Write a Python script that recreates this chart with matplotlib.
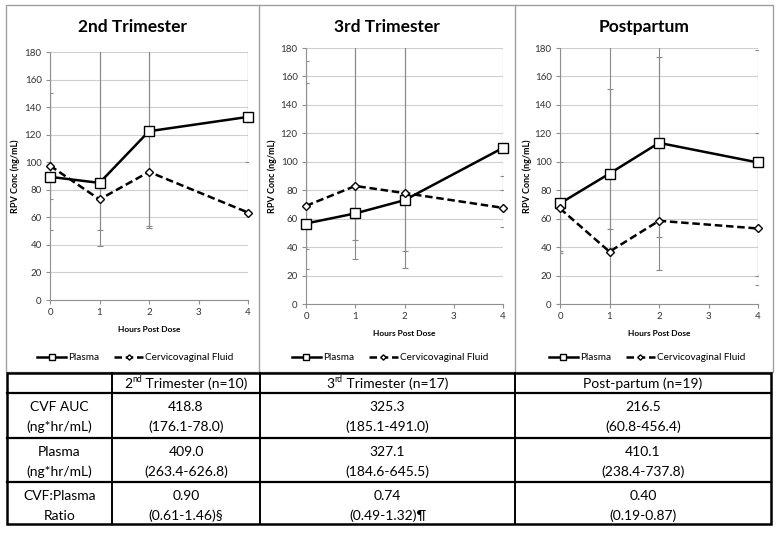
import numpy as np
import matplotlib
matplotlib.use("Agg")
import matplotlib.pyplot as plt
from matplotlib.lines import Line2D
from matplotlib.patches import Rectangle

plt.rcParams['font.family'] = ['Lato', 'DejaVu Sans']

# data
hours = [0, 1, 2, 4]
titles = ["2nd Trimester", "3rd Trimester", "Postpartum"]

plasma = [[89.4, 85.0, 122.5, 132.9],
          [56.6, 63.7, 73.0, 109.8],
          [70.7, 91.7, 113.3, 99.5]]
plasma_lo = [[51.0, 39.4, 52.4, 100.0],
             [24.4, 31.6, 25.0, 80.0],
             [37.0, 52.4, 47.3, 19.5]]
plasma_hi = [[200, 200, 200, 200],
             [155.5, 200, 200, 200],
             [200, 200, 200, 178.6]]

cvf = [[97.5, 73.0, 93.0, 63.5],
       [69.0, 83.0, 78.0, 67.6],
       [67.2, 36.8, 58.5, 53.1]]
cvf_lo = [[73.0, 50.6, 53.5, 63.0],
          [39.0, 45.0, 37.5, 54.0],
          [35.6, -10.0, 23.9, 13.3]]
cvf_hi = [[150, 200, 200, 200],
          [171.0, 200, 200, 90.0],
          [100.0, 151.4, 174.0, 120.0]]

row_heads = [("CVF AUC", "(ng*hr/mL)"), ("Plasma", "(ng*hr/mL)"), ("CVF:Plasma", "Ratio")]
# header pieces: (number, superscript, rest)
col_heads = [("2", "nd", " Trimester (n=10)"),
             ("3", "rd", " Trimester (n=17)"),
             ("Post-partum (n=19)", "", "")]
cells = [[("418.8", "(176.1-78.0)"), ("325.3", "(185.1-491.0)"), ("216.5", "(60.8-456.4)")],
         [("409.0", "(263.4-626.8)"), ("327.1", "(184.6-645.5)"), ("410.1", "(238.4-737.8)")],
         [("0.90", "(0.61-1.46)§"), ("0.74", "(0.49-1.32)¶"), ("0.40", "(0.19-0.87)")]]

W, H = 779, 533
fig = plt.figure(figsize=(W / 100, H / 100), dpi=100)


def fx(px):
    return px / W


def fy(py):
    return 1 - py / H


# axes boxes in pixels: left, top, right, bottom
boxes = [(50, 52, 248, 300), (306, 48, 503, 304), (560, 48, 758, 304)]
panels = [(6, 259), (259, 515), (515, 773)]
ylab_x = [15, 272, 527]

# panel frame
fig.add_artist(Rectangle((fx(6), fy(372)), fx(773 - 6), (372 - 5) / H,
                         transform=fig.transFigure, fill=False,
                         edgecolor="#a0a0a0", lw=1.0))
for xp in (259, 515):
    fig.add_artist(Line2D([fx(xp), fx(xp)], [fy(5), fy(372)],
                          transform=fig.transFigure, color="#a0a0a0", lw=1.0))

for i in range(3):
    l, t, r, b = boxes[i]
    ax = fig.add_axes([fx(l), fy(b), fx(r - l), (b - t) / H])
    p = np.array(plasma[i])
    c = np.array(cvf[i])

    ax.errorbar(hours, p, yerr=[p - np.array(plasma_lo[i]), np.array(plasma_hi[i]) - p],
                fmt="none", ecolor="#8a8a8a", elinewidth=0.8, capsize=2, capthick=0.8)
    ax.errorbar(hours, c, yerr=[c - np.array(cvf_lo[i]), np.array(cvf_hi[i]) - c],
                fmt="none", ecolor="#8a8a8a", elinewidth=0.8, capsize=2, capthick=0.8)

    ax.plot(hours, p, color="black", lw=1.8, marker="s", ms=7.5, mfc="white",
            mec="black", mew=1.0, clip_on=False, zorder=5, label="Plasma")
    ax.plot(hours, c, color="black", lw=1.8, ls=(0, (3, 1.5)), marker="D", ms=4.5,
            mfc="white", mec="black", mew=1.0, clip_on=False, zorder=5,
            label="Cervicovaginal Fluid")

    ax.set_xlim(0, 4)
    ax.set_ylim(0, 180)
    ax.set_yticks(np.arange(0, 181, 20))
    ax.set_xticks([0, 1, 2, 3, 4])
    ax.grid(axis="y", color="#d0d0d0", lw=0.8)
    ax.set_axisbelow(True)
    for s in ("top", "right"):
        ax.spines[s].set_visible(False)
    for s in ("left", "bottom"):
        ax.spines[s].set_color("#909090")
        ax.spines[s].set_linewidth(0.8)
    ax.tick_params(labelsize=7, colors="#333333", length=3, width=0.8, pad=3)
    ax.tick_params(axis="both", color="#909090")
    ax.set_xlabel("Hours Post Dose", fontsize=6, fontweight="bold", labelpad=6)

    cx = (panels[i][0] + panels[i][1]) / 2
    fig.text(fx(cx), fy(27), titles[i], fontsize=12.5, fontweight="bold",
             ha="center", va="center")
    fig.text(fx(ylab_x[i]), fy((t + b) / 2), "RPV Conc (ng/mL)", fontsize=6.5,
             fontweight="bold", rotation=90, ha="center", va="center")

    ax.legend(loc="center", bbox_to_anchor=(fx(cx + 3), fy(358)),
              bbox_transform=fig.transFigure, ncol=2, frameon=False,
              fontsize=7.2, handlelength=2.9, columnspacing=1.5, handletextpad=0.2,
              borderpad=0, markerscale=0.6)

# table
col_x = [7, 112, 260, 515, 771]
row_y = [373, 393, 438, 482, 524]
tk = dict(transform=fig.transFigure, color="black")
fig.add_artist(Rectangle((fx(col_x[0]), fy(row_y[-1])), fx(col_x[-1] - col_x[0]),
                         (row_y[-1] - row_y[0]) / H, transform=fig.transFigure,
                         fill=True, facecolor="white", edgecolor="black", lw=1.8))
for yy in row_y[1:-1]:
    fig.add_artist(Line2D([fx(col_x[0]), fx(col_x[-1])], [fy(yy), fy(yy)], lw=1.6, **tk))
for xx in col_x[1:-1]:
    fig.add_artist(Line2D([fx(xx), fx(xx)], [fy(row_y[0]), fy(row_y[-1])], lw=1.4, **tk))

fs = 10
renderer = fig.canvas.get_renderer()
for j in range(3):
    xc = (col_x[j + 1] + col_x[j + 2]) / 2
    parts = col_heads[j]
    # place pieces left-aligned, then shift so the whole header is centred
    t1 = fig.text(0, fy(384), parts[0], fontsize=fs, ha="left", va="center")
    t2 = fig.text(0, fy(379), parts[1], fontsize=fs * 0.62, ha="left", va="center")
    t3 = fig.text(0, fy(384), parts[2], fontsize=fs, ha="left", va="center")
    w1 = t1.get_window_extent(renderer).width if parts[0] else 0
    w2 = t2.get_window_extent(renderer).width if parts[1] else 0
    w3 = t3.get_window_extent(renderer).width if parts[2] else 0
    x0 = xc - (w1 + w2 + w3) / 2
    t1.set_x(fx(x0))
    t2.set_x(fx(x0 + w1))
    t3.set_x(fx(x0 + w1 + w2))
for k in range(3):
    y1 = row_y[k + 1] + 14
    y2 = row_y[k + 1] + 34
    xc = (col_x[0] + col_x[1]) / 2
    fig.text(fx(xc), fy(y1), row_heads[k][0], fontsize=fs, ha="center", va="center")
    fig.text(fx(xc), fy(y2), row_heads[k][1], fontsize=fs, ha="center", va="center")
    for j in range(3):
        xc = (col_x[j + 1] + col_x[j + 2]) / 2
        fig.text(fx(xc), fy(y1), cells[k][j][0], fontsize=fs, ha="center", va="center")
        fig.text(fx(xc), fy(y2), cells[k][j][1], fontsize=fs, ha="center", va="center")

fig.savefig("out.png", dpi=100)
